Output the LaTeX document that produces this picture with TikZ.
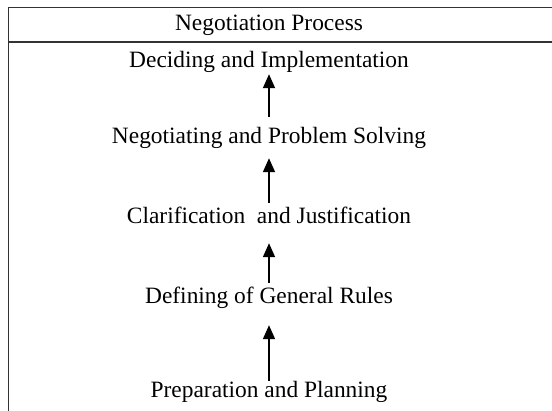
\documentclass[tikz,border=0pt]{standalone}
\usepackage{fontspec}
\setmainfont{Liberation Serif}
\usetikzlibrary{arrows.meta}
\begin{document}
\begin{tikzpicture}[x=1bp, y=-1bp,
  stage/.style={inner sep=0pt, anchor=base, text height=16bp, text depth=5bp, font=\fontsize{23.5}{28}\selectfont},
  flow/.style={-{Triangle[length=14bp, width=12bp]}, line width=1.8bp}]
  \useasboundingbox (0,0) rectangle (552,410);
  % frame
  \draw[black!80, line width=1.8bp] (553,7.5) -- (8.5,7.5) -- (8.5,411);
  \draw[black!80, line width=1.8bp] (8.5,42) -- (553,42);
  \node[stage] (title) at (269,30) {Negotiation Process};
  % stages
  \node[stage] (decide) at (269,67) {Deciding and Implementation};
  \node[stage] (negot) at (269,143) {Negotiating and Problem Solving};
  \node[stage] (clarif) at (269,223) {Clarification\ \ and Justification};
  \node[stage] (rules) at (269,303) {Defining of General Rules};
  \node[stage] (prep) at (269,397) {Preparation and Planning};
  % arrows
  \draw[flow, shorten <=10bp, shorten >=2bp] (negot.north) -- (decide.south);
  \draw[flow, shorten <=4bp, shorten >=10bp] (clarif.north) -- (negot.south);
  \draw[flow, shorten <=4bp, shorten >=15bp] (rules.north) -- (clarif.south);
  \draw[flow, shorten <=0bp, shorten >=17bp] (prep.north) -- (rules.south);
\end{tikzpicture}
\end{document}
